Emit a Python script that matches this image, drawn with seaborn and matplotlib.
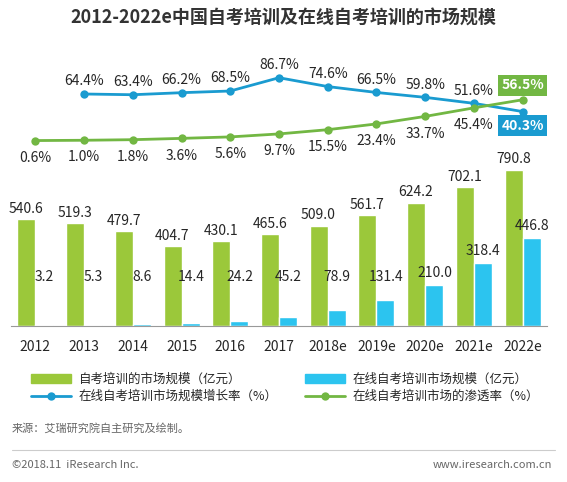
import matplotlib
matplotlib.use("Agg")
import matplotlib.pyplot as plt
import seaborn as sns
import pandas as pd
from matplotlib.patches import Patch
from matplotlib.lines import Line2D

sns.set_style("white")
plt.rcParams['font.family'] = ['Noto Sans CJK SC', 'DejaVu Sans']

years = ["2012","2013","2014","2015","2016","2017","2018e","2019e","2020e","2021e","2022e"]
offline = [540.6,519.3,479.7,404.7,430.1,465.6,509.0,561.7,624.2,702.1,790.8]
online = [3.2,5.3,8.6,14.4,24.2,45.2,78.9,131.4,210.0,318.4,446.8]
growth = [None,64.4,63.4,66.2,68.5,86.7,74.6,66.5,59.8,51.6,40.3]
penetration = [0.6,1.0,1.8,3.6,5.6,9.7,15.5,23.4,33.7,45.4,56.5]
s1 = "自考培训的市场规模（亿元）"
s2 = "在线自考培训市场规模（亿元）"
s3 = "在线自考培训市场规模增长率（%）"
s4 = "在线自考培训市场的渗透率（%）"
green = "#9BC83A"; cyan = "#2CC4EF"; blue = "#1A9BD0"; lgreen = "#72B743"

W, H = 567, 482
fig = plt.figure(figsize=(W/100, H/100), dpi=100)
def ax_at(x0, y0, x1, y1):
    return fig.add_axes([x0/W, 1-y1/H, (x1-x0)/W, (y1-y0)/H])

# bars
axb = ax_at(11, 160, 547, 326)
df = pd.DataFrame({"year": years*2, "value": offline+online,
                   "series": [s1]*11 + [s2]*11})
sns.barplot(data=df, x="year", y="value", hue="series", palette=[green, cyan],
            width=0.74, ax=axb, legend=False, saturation=1)
axb.set_xlim(-0.5, 10.5); axb.set_ylim(0, 841)
for s in ["top", "right", "left"]:
    axb.spines[s].set_visible(False)
axb.spines["bottom"].set_color("#999999")
axb.set_yticks([]); axb.set_xlabel(""); axb.set_ylabel("")
axb.tick_params(axis="x", length=0, labelsize=10, pad=10)
for i in range(11):
    axb.text(i-0.19, offline[i]+18, f"{offline[i]:.1f}", ha="center", va="bottom", fontsize=10)
    y = online[i]+25 if online[i] > 100 else 215
    axb.text(i+0.19, max(y, 215), f"{online[i]:.1f}", ha="center", va="bottom", fontsize=10)

# lines
axl = ax_at(11, 60, 547, 175)
axl.patch.set_alpha(0)
gx = [i for i in range(11) if growth[i] is not None]
sns.lineplot(x=gx, y=[growth[i] for i in gx], color=blue, marker="o", markersize=6,
             markeredgewidth=0, linewidth=2, ax=axl)
sns.lineplot(x=list(range(11)), y=penetration, color=lgreen, marker="o", markersize=6,
             markeredgewidth=0, linewidth=2, ax=axl)
axl.set_xlim(-0.5, 10.5); axl.set_ylim(-46.6, 111)
axl.axis("off")
for i in gx[:-1]:
    axl.text(i, growth[i]+8, f"{growth[i]}%", ha="center", va="bottom", fontsize=10)
for i in range(10):
    axl.text(i, penetration[i]-14, f"{penetration[i]}%", ha="center", va="top", fontsize=10)
axl.text(10, penetration[10]+10, f"{penetration[10]}%", ha="center", va="bottom", fontsize=10,
         color="white", weight="bold", bbox=dict(boxstyle="square,pad=0.25", fc=lgreen, ec="none"))
axl.text(10, growth[10]-10, f"{growth[10]}%", ha="center", va="top", fontsize=10,
         color="white", weight="bold", bbox=dict(boxstyle="square,pad=0.25", fc=blue, ec="none"))

fig.text(0.5, 1-18/H, "2012-2022e中国自考培训及在线自考培训的市场规模", ha="center", va="center",
         fontsize=13, weight="bold", color="#333333")

handles = [Patch(color=green), Line2D([], [], color=blue, marker="o", lw=2, markeredgewidth=0),
           Patch(color=cyan), Line2D([], [], color=lgreen, marker="o", lw=2, markeredgewidth=0)]
labels = [s1, s3, s2, s4]
fig.legend(handles, labels, ncol=2, loc="center left", bbox_to_anchor=(20/W, 1-388/H),
           frameon=False, fontsize=9, handlelength=3.2, columnspacing=2.2, labelspacing=0.3,
           handletextpad=0.6)

fig.text(12/W, 1-428/H, "来源：艾瑞研究院自主研究及绘制。", fontsize=8, color="#666666", va="center")
fig.add_artist(Line2D([12/W, 555/W], [1-450/H]*2, color="#cccccc", lw=0.8))
fig.text(12/W, 1-465/H, "©2018.11  iResearch Inc.", fontsize=8, color="#666666", va="center")
fig.text(552/W, 1-465/H, "www.iresearch.com.cn", fontsize=8, color="#666666", va="center", ha="right")

fig.savefig("out.png", dpi=100)
